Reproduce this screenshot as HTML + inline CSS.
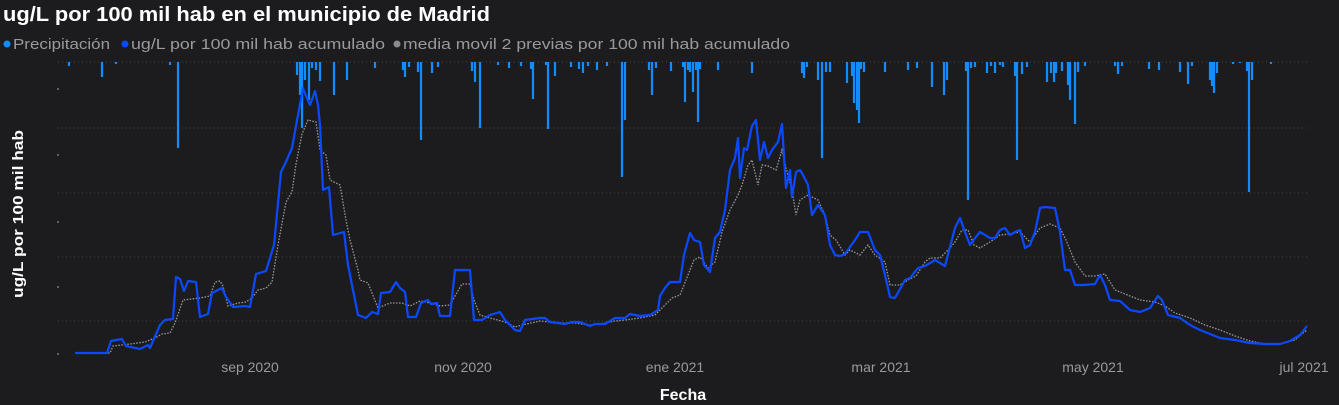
<!DOCTYPE html>
<html><head><meta charset="utf-8"><style>
html,body{margin:0;padding:0;background:#1c1c1f;}
body{width:1339px;height:405px;overflow:hidden;font-family:"Liberation Sans",sans-serif;}
</style></head><body>
<svg width="1339" height="405" xmlns="http://www.w3.org/2000/svg" style="display:block">
<rect width="1339" height="405" fill="#1c1c1f"/>
<text x="3" y="21" fill="#ffffff" font-size="20" font-weight="bold" textLength="487" lengthAdjust="spacingAndGlyphs" font-family="Liberation Sans, sans-serif">ug/L por 100 mil hab en el municipio de Madrid</text>
<g font-size="14.5" fill="#9a9a9a" font-family="Liberation Sans, sans-serif">
<circle cx="7" cy="44" r="3.5" fill="#118dff"/><text x="13" y="49" textLength="97" lengthAdjust="spacingAndGlyphs">Precipitación</text>
<circle cx="125" cy="44" r="3.5" fill="#0b49ff"/><text x="131" y="49" textLength="254" lengthAdjust="spacingAndGlyphs">ug/L por 100 mil hab acumulado</text>
<circle cx="397" cy="44" r="3.5" fill="#8a8a8a"/><text x="403" y="49" textLength="387" lengthAdjust="spacingAndGlyphs">media movil 2 previas por 100 mil hab acumulado</text>
</g>
<g stroke="#444" stroke-width="1" stroke-dasharray="1,3">
<line x1="58" y1="62" x2="1307" y2="62"/><line x1="58" y1="128" x2="1307" y2="128"/><line x1="58" y1="193" x2="1307" y2="193"/><line x1="58" y1="257" x2="1307" y2="257"/><line x1="58" y1="321" x2="1307" y2="321"/>
</g>
<g fill="#777"><circle cx="58" cy="89" r="1"/><circle cx="58" cy="155" r="1"/><circle cx="58" cy="222" r="1"/><circle cx="58" cy="287" r="1"/><circle cx="58" cy="354" r="1"/></g>
<text transform="translate(23,298) rotate(-90)" fill="#fff" font-size="15" font-weight="bold" textLength="168" lengthAdjust="spacingAndGlyphs" font-family="Liberation Sans, sans-serif">ug/L por 100 mil hab</text>
<g stroke="#118dff" stroke-width="2.2">
<line x1="69" y1="62" x2="69" y2="66"/><line x1="102" y1="62" x2="102" y2="77"/><line x1="116" y1="62" x2="116" y2="64"/><line x1="170" y1="62" x2="170" y2="65"/><line x1="178" y1="62" x2="178" y2="148"/>
<line x1="297" y1="62" x2="297" y2="75"/><line x1="300" y1="62" x2="300" y2="95"/><line x1="302" y1="62" x2="302" y2="128"/><line x1="305" y1="62" x2="305" y2="80"/><line x1="309" y1="62" x2="309" y2="100"/><line x1="312" y1="62" x2="312" y2="68"/><line x1="316" y1="62" x2="316" y2="70"/><line x1="320" y1="62" x2="320" y2="81"/>
<line x1="334" y1="62" x2="334" y2="95"/><line x1="347" y1="62" x2="347" y2="80"/><line x1="375" y1="62" x2="375" y2="68"/>
<line x1="403" y1="62" x2="403" y2="70"/><line x1="405" y1="62" x2="405" y2="77"/><line x1="409" y1="62" x2="409" y2="67"/><line x1="418" y1="62" x2="418" y2="72"/><line x1="421" y1="62" x2="421" y2="140"/><line x1="432" y1="62" x2="432" y2="73"/><line x1="438" y1="62" x2="438" y2="67"/>
<line x1="472" y1="62" x2="472" y2="71"/><line x1="475" y1="62" x2="475" y2="82"/><line x1="480" y1="62" x2="480" y2="128"/><line x1="498" y1="62" x2="498" y2="65"/><line x1="509" y1="62" x2="509" y2="68"/><line x1="521" y1="62" x2="521" y2="66"/>
<line x1="531" y1="62" x2="531" y2="69"/><line x1="533" y1="62" x2="533" y2="99"/><line x1="546" y1="62" x2="546" y2="65"/><line x1="548" y1="62" x2="548" y2="129"/><line x1="555" y1="62" x2="555" y2="76"/>
<line x1="571" y1="62" x2="571" y2="67"/><line x1="579" y1="62" x2="579" y2="69"/><line x1="583" y1="62" x2="583" y2="73"/><line x1="588" y1="62" x2="588" y2="66"/>
<line x1="597" y1="62" x2="597" y2="70"/><line x1="607" y1="62" x2="607" y2="66"/><line x1="622" y1="62" x2="622" y2="177"/><line x1="625" y1="62" x2="625" y2="120"/>
<line x1="649" y1="62" x2="649" y2="70"/><line x1="652" y1="62" x2="652" y2="95"/><line x1="656" y1="62" x2="656" y2="68"/><line x1="671" y1="62" x2="671" y2="71"/>
<line x1="683" y1="62" x2="683" y2="67"/><line x1="685" y1="62" x2="685" y2="102"/><line x1="688" y1="62" x2="688" y2="70"/><line x1="690" y1="62" x2="690" y2="72"/><line x1="693" y1="62" x2="693" y2="92"/><line x1="696" y1="62" x2="696" y2="70"/><line x1="698" y1="62" x2="698" y2="122"/><line x1="700" y1="62" x2="700" y2="69"/><line x1="718" y1="62" x2="718" y2="70"/><line x1="752" y1="62" x2="752" y2="73"/>
<line x1="802" y1="62" x2="802" y2="73"/><line x1="804" y1="62" x2="804" y2="78"/><line x1="807" y1="62" x2="807" y2="67"/><line x1="818" y1="62" x2="818" y2="80"/><line x1="822" y1="62" x2="822" y2="158"/><line x1="826" y1="62" x2="826" y2="72"/><line x1="830" y1="62" x2="830" y2="72"/>
<line x1="847" y1="62" x2="847" y2="83"/><line x1="852" y1="62" x2="852" y2="76"/><line x1="854" y1="62" x2="854" y2="103"/><line x1="857" y1="62" x2="857" y2="110"/><line x1="859" y1="62" x2="859" y2="123"/><line x1="861" y1="62" x2="861" y2="69"/><line x1="864" y1="62" x2="864" y2="72"/>
<line x1="885" y1="62" x2="885" y2="72"/><line x1="908" y1="62" x2="908" y2="70"/><line x1="917" y1="62" x2="917" y2="68"/><line x1="932" y1="62" x2="932" y2="87"/>
<line x1="944" y1="62" x2="944" y2="95"/><line x1="947" y1="62" x2="947" y2="80"/><line x1="966" y1="62" x2="966" y2="71"/><line x1="968" y1="62" x2="968" y2="200"/><line x1="971" y1="62" x2="971" y2="68"/><line x1="975" y1="62" x2="975" y2="67"/>
<line x1="987" y1="62" x2="987" y2="73"/><line x1="991" y1="62" x2="991" y2="66"/><line x1="995" y1="62" x2="995" y2="73"/><line x1="1000" y1="62" x2="1000" y2="65"/><line x1="1003" y1="62" x2="1003" y2="67"/>
<line x1="1015" y1="62" x2="1015" y2="76"/><line x1="1017" y1="62" x2="1017" y2="160"/><line x1="1022" y1="62" x2="1022" y2="74"/><line x1="1027" y1="62" x2="1027" y2="67"/>
<line x1="1047" y1="62" x2="1047" y2="82"/><line x1="1051" y1="62" x2="1051" y2="73"/><line x1="1054" y1="62" x2="1054" y2="82"/><line x1="1056" y1="62" x2="1056" y2="73"/><line x1="1062" y1="62" x2="1062" y2="71"/><line x1="1068" y1="62" x2="1068" y2="85"/><line x1="1070" y1="62" x2="1070" y2="100"/><line x1="1075" y1="62" x2="1075" y2="124"/><line x1="1078" y1="62" x2="1078" y2="72"/><line x1="1085" y1="62" x2="1085" y2="66"/>
<line x1="1115" y1="62" x2="1115" y2="66"/><line x1="1118" y1="62" x2="1118" y2="74"/><line x1="1122" y1="62" x2="1122" y2="66"/><line x1="1149" y1="62" x2="1149" y2="69"/><line x1="1159" y1="62" x2="1159" y2="70"/><line x1="1180" y1="62" x2="1180" y2="72"/><line x1="1188" y1="62" x2="1188" y2="84"/><line x1="1192" y1="62" x2="1192" y2="66"/>
<line x1="1210" y1="62" x2="1210" y2="80"/><line x1="1212" y1="62" x2="1212" y2="86"/><line x1="1214" y1="62" x2="1214" y2="93"/><line x1="1217" y1="62" x2="1217" y2="73"/><line x1="1233" y1="62" x2="1233" y2="64"/>
<line x1="1240" y1="62" x2="1240" y2="63"/><line x1="1247" y1="62" x2="1247" y2="71"/><line x1="1249" y1="62" x2="1249" y2="192"/><line x1="1252" y1="62" x2="1252" y2="80"/><line x1="1271" y1="62" x2="1271" y2="64"/>
</g>
<polyline fill="none" stroke="#9a9a9a" stroke-width="1.3" stroke-dasharray="1.5,1.5" points="75,353 110,353 113,346 130,344 145,342 155,338 162,334 170,333 175,323 183,300 200,298 210,296 215,282 220,281 223,286 228,306 238,303 246,302 252,298 258,290 266,288 272,282 278,245 286,202 292,192 296,164 302,134 308,120 316,122 320,150 326,155 330,180 340,185 346,220 350,240 358,270 360,280 368,283 378,308 390,303 402,303 410,306 420,301 430,303 440,306 450,305 455,296 462,284 470,284 474,300 480,315 490,318 505,322 515,327 522,325 540,321 560,323 575,323 590,325 600,324 615,321 625,320 640,318 655,315 665,305 672,298 680,295 688,275 694,260 700,257 708,268 715,262 722,232 730,210 738,195 742,185 748,165 752,160 758,185 762,165 768,166 776,170 782,150 786,168 792,190 796,215 800,200 808,195 818,200 825,215 830,235 836,240 845,255 850,250 860,255 868,245 875,255 885,262 890,285 900,285 908,280 916,276 925,262 930,258 940,258 948,250 955,242 962,230 968,230 974,245 980,248 990,242 1000,235 1010,234 1020,232 1030,242 1040,228 1050,224 1060,228 1066,240 1075,262 1085,276 1095,276 1105,274 1115,290 1125,294 1140,300 1155,302 1165,306 1175,313 1190,318 1205,325 1220,330 1235,336 1250,341 1265,344 1280,344 1295,340 1303,333 1307,330"/>
<polyline fill="none" stroke="#0b49ff" stroke-width="2.2" stroke-linejoin="round" points="75,353 107,353 111,341 122,339 126,346 140,349 148,345 150,348 160,325 165,320 173,319 176,277 180,279 184,291 188,281 196,282 200,317 208,314 212,293 222,288 226,297 233,307 245,306 250,307 256,274 266,271 274,245 281,172 285,164 292,148 296,126 303,88 306,96 310,105 315,91 318,105 320,125 323,190 329,187 333,235 344,232 348,265 358,315 366,318 372,312 378,314 381,293 390,292 396,282 400,288 405,292 408,317 416,317 421,303 428,300 431,304 437,303 440,316 450,316 455,270 470,270 474,320 482,320 490,315 500,312 505,320 515,330 520,331 525,320 540,318 545,318 550,322 558,323 565,324 572,322 580,322 590,326 595,324 605,324 615,318 625,318 630,314 640,316 650,315 658,310 660,296 665,288 670,282 680,282 684,255 690,233 694,240 700,242 704,265 710,272 715,238 720,232 725,210 730,170 735,158 738,138 740,178 744,148 747,150 752,126 756,120 760,160 764,142 768,158 772,150 778,142 782,124 786,188 790,170 792,197 796,172 800,170 803,175 808,185 812,215 818,205 825,215 830,245 835,255 840,256 845,254 855,240 860,232 868,232 875,250 880,255 885,275 890,297 895,298 905,280 910,278 918,268 925,266 935,260 945,266 955,228 960,218 965,232 970,245 975,238 980,232 990,238 995,238 1000,230 1005,228 1010,235 1015,232 1020,230 1025,248 1030,245 1035,232 1040,208 1045,207 1055,208 1060,232 1065,270 1070,270 1075,285 1085,285 1095,284 1100,275 1105,285 1110,300 1120,301 1130,310 1140,312 1150,308 1158,296 1162,300 1168,315 1180,318 1190,325 1200,330 1210,334 1220,338 1235,340 1250,343 1265,344 1280,344 1290,341 1300,335 1307,326"/>
<g fill="#9a9a9a" font-size="14" text-anchor="middle" font-family="Liberation Sans, sans-serif">
<text x="250" y="372">sep 2020</text><text x="463" y="372">nov 2020</text><text x="675" y="372">ene 2021</text><text x="881" y="372">mar 2021</text><text x="1093" y="372">may 2021</text><text x="1304" y="372">jul 2021</text>
</g>
<text x="683" y="400" fill="#fff" font-size="16" font-weight="bold" text-anchor="middle" font-family="Liberation Sans, sans-serif">Fecha</text>
</svg>
</body></html>
